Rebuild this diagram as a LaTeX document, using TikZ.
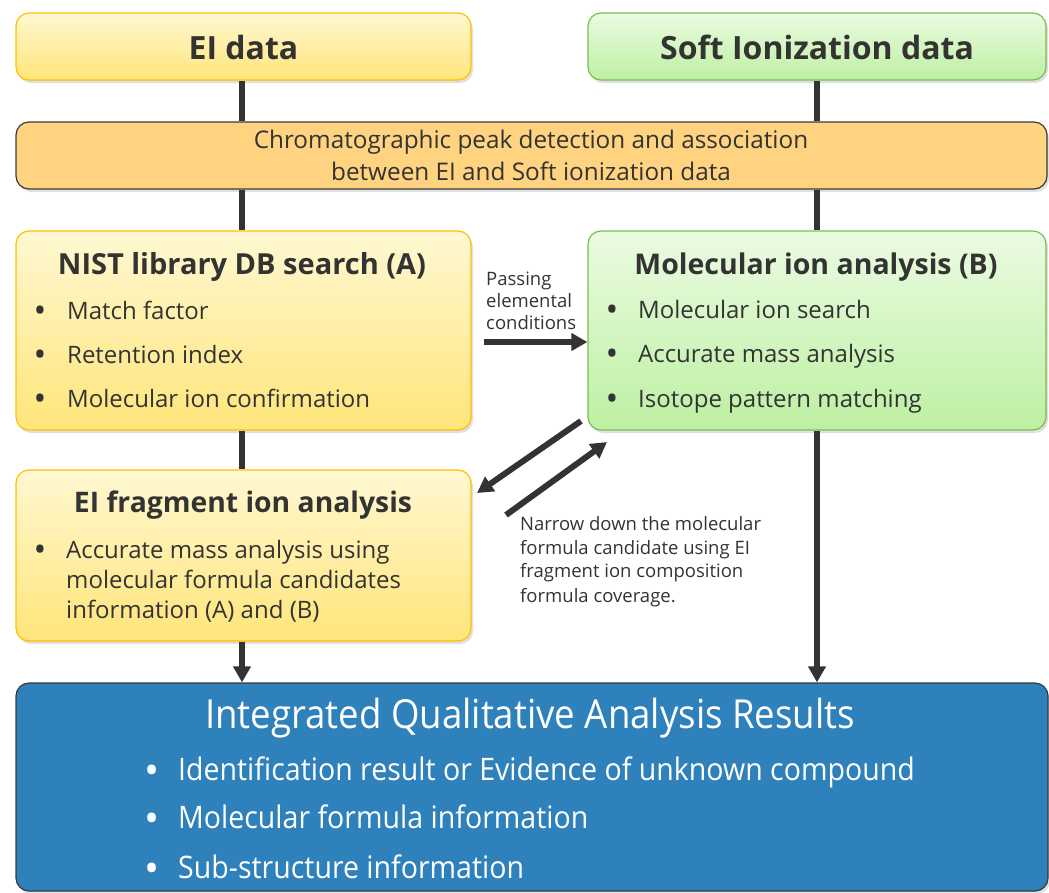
\documentclass[tikz,border=0pt]{standalone}
\usepackage{fontspec}
\setmainfont{Open Sans}
\usetikzlibrary{arrows.meta,shadows}
\definecolor{ink}{HTML}{333333}
\definecolor{yelTop}{HTML}{FFF8D2}
\definecolor{yelBot}{HTML}{FFE57A}
\definecolor{yelEdge}{HTML}{FFC000}
\definecolor{grnTop}{HTML}{EBFBE2}
\definecolor{grnBot}{HTML}{BDF0A2}
\definecolor{grnEdge}{HTML}{78BE50}
\definecolor{peach}{HTML}{FFD37F}
\definecolor{steel}{HTML}{2E81BB}
\definecolor{rim}{HTML}{3A3A3A}
\newcommand{\fs}[1]{\fontsize{#1}{#1}\selectfont}
\begin{document}
\begin{tikzpicture}[x=1pt,y=-1pt,
  panel/.style={rounded corners=13pt, line width=1.2pt,
    drop shadow={opacity=0.25, shadow xshift=2pt, shadow yshift=-3pt}},
  yelpanel/.style={panel, draw=yelEdge, top color=yelTop, bottom color=yelBot},
  grnpanel/.style={panel, draw=grnEdge, top color=grnTop, bottom color=grnBot},
  title/.style={font=\bfseries\fs{29}, text=ink, inner sep=0pt, anchor=base},
  item/.style={font=\fs{24}, text=ink, anchor=base west, inner sep=0pt},
  dot/.style={font=\fs{34}, text=ink, inner sep=0pt, anchor=base},
  wdot/.style={font=\fs{40}, text=white, inner sep=0pt, anchor=base},
  witem/.style={font=\fs{31}, text=white, anchor=base west, inner sep=0pt},
  note/.style={font=\fs{18.5}, text=ink, anchor=base west, inner sep=0pt},
  link/.style={draw=ink, line width=6pt},
  flow/.style={link, -{Triangle[length=16pt,width=17pt]}},
]
\useasboundingbox (0,0) rectangle (1049,892);

% top source boxes
\node[yelpanel, minimum width=455pt, minimum height=67pt] (ei) at (243.5,46.5) {};
\node[title, font=\bfseries\fs{32}] (eit) at (243.5,59.5) {EI data};
\node[grnpanel, minimum width=458pt, minimum height=67pt] (soft) at (817,46.5) {};
\node[title, font=\bfseries\fs{32}] (softt) at (817,59.5) {Soft Ionization data};

% peak detection band
\node[panel, draw=rim, fill=peach, minimum width=1031pt, minimum height=67pt] (chrom) at (531.5,155.5) {};
\node[font=\fs{24.3}, text=ink, inner sep=0pt, anchor=base] (chromt1) at (531,148)
  {Chromatographic peak detection and association};
\node[font=\fs{24.3}, text=ink, inner sep=0pt, anchor=base] (chromt2) at (531,180)
  {between EI and Soft ionization data};

% NIST search box (A)
\node[yelpanel, minimum width=455pt, minimum height=199pt] (nist) at (243.5,330.5) {};
\node[title] (nistt) at (242,274) {NIST library DB search (A)};
\node[dot] (nb1) at (40,322) {•};
\node[item] (ni1) at (67,319) {Match factor};
\node[dot] (nb2) at (40,366) {•};
\node[item] (ni2) at (67,363) {Retention index};
\node[dot] (nb3) at (40,410) {•};
\node[item] (ni3) at (67,407) {Molecular ion confirmation};

% molecular ion box (B)
\node[grnpanel, minimum width=458pt, minimum height=199pt] (mol) at (817,330.5) {};
\node[title, font=\bfseries\fs{28.5}] (molt) at (816,274) {Molecular ion analysis (B)};
\node[dot] (mb1) at (612,321) {•};
\node[item] (mi1) at (638,318) {Molecular ion search};
\node[dot] (mb2) at (612,365) {•};
\node[item] (mi2) at (638,362) {Accurate mass analysis};
\node[dot] (mb3) at (612,410) {•};
\node[item] (mi3) at (638,407) {Isotope pattern matching};

% EI fragment box
\node[yelpanel, minimum width=455pt, minimum height=171pt] (frag) at (243.5,555.5) {};
\node[title, font=\bfseries\fs{28.3}] (fragt) at (243,512) {EI fragment ion analysis};
\node[dot] (fb1) at (40,561) {•};
\node[item] (fi1) at (66,558) {Accurate mass analysis using};
\node[item] (fi2) at (66,588) {molecular formula candidates};
\node[item] (fi3) at (66,618) {information (A) and (B)};

% integrated results
\node[panel, draw=rim, fill=steel, minimum width=1032pt, minimum height=208pt] (res) at (532,787) {};
\node[font=\fs{40}, text=white, inner sep=0pt, anchor=base] (rest) at (530,728)
  {\scalebox{0.915}[1]{Integrated Qualitative Analysis Results}};
\node[wdot] (rb1) at (152,784) {•};
\node[witem] (ri1) at (178,780) {\scalebox{0.92}[1]{Identification result or Evidence of unknown compound}};
\node[wdot] (rb2) at (152,832) {•};
\node[witem] (ri2) at (178,828) {\scalebox{0.92}[1]{Molecular formula information}};
\node[wdot] (rb3) at (152,882) {•};
\node[witem] (ri3) at (178,878) {\scalebox{0.92}[1]{Sub-structure information}};

% annotations
\node[note] (pass1) at (486,285) {Passing};
\node[note] (pass2) at (486,307) {elemental};
\node[note] (pass3) at (486,329) {conditions};
\node[note] (nar1) at (520,530) {Narrow down the molecular};
\node[note] (nar2) at (520,554) {formula candidate using EI};
\node[note] (nar3) at (520,577) {fragment ion composition};
\node[note] (nar4) at (520,602) {formula coverage.};

% vertical connectors
\draw[link] (ei.south -| 242,0) -- (chrom.north -| 242,0);
\draw[link] (chrom.south -| 242,0) -- (nist.north -| 242,0);
\draw[link] (nist.south -| 242,0) -- (frag.north -| 242,0);
\draw[flow] (frag.south -| 242,0) -- (res.north -| 242,0);
\draw[link] (soft.south) -- (soft.south |- chrom.north);
\draw[link] (chrom.south -| soft.south) -- (mol.north);
\draw[flow] (mol.south) -- (mol.south |- res.north);

% cross links
\coordinate (passFrom) at (484,342);
\draw[flow] (passFrom) -- (passFrom -| mol.west);
\coordinate (backFrom) at (581,421);
\coordinate (backTo) at (477,493);
\draw[flow] (backFrom) -- (backTo);
\coordinate (fwdFrom) at (506,515);
\coordinate (fwdTo) at (607,442);
\draw[flow] (fwdFrom) -- (fwdTo);
\end{tikzpicture}
\end{document}
